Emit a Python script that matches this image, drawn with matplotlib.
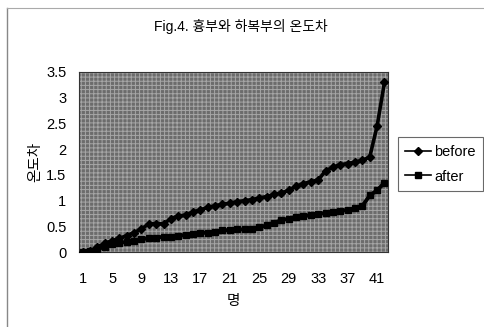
import matplotlib

matplotlib.use("Agg")
import matplotlib.pyplot as plt
from matplotlib.lines import Line2D

plt.rcParams["font.family"] = ["Liberation Sans", "Noto Sans CJK KR", "DejaVu Sans"]
plt.rcParams["hatch.linewidth"] = 0.7

# 42 subjects, temperature difference before / after
subjects = list(range(1, 43))
before = [0.0, 0.02, 0.1, 0.17, 0.22, 0.27, 0.32, 0.38, 0.45, 0.55,
          0.55, 0.55, 0.65, 0.70, 0.72, 0.78, 0.82, 0.87, 0.90, 0.93,
          0.95, 0.98, 1.00, 1.02, 1.05, 1.08, 1.12, 1.15, 1.20, 1.28,
          1.33, 1.37, 1.40, 1.58, 1.65, 1.70, 1.72, 1.75, 1.78, 1.85,
          2.45, 3.30]
after = [0.0, 0.02, 0.06, 0.10, 0.15, 0.18, 0.20, 0.22, 0.25, 0.27,
         0.28, 0.30, 0.30, 0.32, 0.33, 0.35, 0.37, 0.38, 0.40, 0.42,
         0.43, 0.44, 0.44, 0.45, 0.48, 0.52, 0.57, 0.62, 0.65, 0.68,
         0.70, 0.72, 0.74, 0.76, 0.78, 0.80, 0.82, 0.85, 0.90, 1.10,
         1.20, 1.35]
xticks = list(range(1, 43, 4))
yticks = [0, 0.5, 1, 1.5, 2, 2.5, 3, 3.5]
ytick_labels = ["0", "0.5", "1", "1.5", "2", "2.5", "3", "3.5"]

fig = plt.figure(figsize=(4.84, 3.27), dpi=100)
ax = fig.add_axes([0.163, 0.229, 0.639, 0.551])

# dithered gray plot area
ax.set_facecolor("#6c6c6c")
ax.add_patch(plt.Rectangle((0, 0), 1, 1, transform=ax.transAxes, fill=False,
                           hatch="++++", edgecolor="#a6a6a6", linewidth=0, zorder=0))

ax.plot(subjects, before, color="black", lw=2.6, marker="D", ms=4.5, label="before", zorder=3)
ax.plot(subjects, after, color="black", lw=2.8, marker="s", ms=5, label="after", zorder=3)

ax.set_xlim(0.5, 42.5)
ax.set_ylim(0, 3.5)
ax.set_xticks(xticks)
ax.set_yticks(yticks)
ax.set_yticklabels(ytick_labels)
ax.tick_params(length=0, labelsize=10.5)
ax.tick_params(axis="x", pad=14)
ax.tick_params(axis="y", pad=9)
for s in ax.spines.values():
    s.set_color("#333333")
    s.set_linewidth(0.8)

ax.set_xlabel("명", fontsize=10.5, labelpad=6)
ax.set_ylabel("온도차", fontsize=10.5, labelpad=3)

fig.text(0.497, 0.918, "Fig.4. 흉부와 하복부의 온도차", ha="center", va="center", fontsize=10)

handles = [
    Line2D([], [], color="black", lw=1.2, marker="D", ms=4),
    Line2D([], [], color="black", lw=1.2, marker="s", ms=4.5),
]
leg = fig.legend(handles, ["before", "after"], loc="upper left",
                 bbox_to_anchor=(0.822, 0.58), fontsize=10.5, frameon=True,
                 fancybox=False, handlelength=1.8, handletextpad=0.2,
                 borderpad=0.5, labelspacing=0.75, borderaxespad=0)
leg.get_frame().set_edgecolor("#444444")
leg.get_frame().set_linewidth(0.8)

# outer chart frame (left and top edges)
fig.add_artist(Line2D([0.015, 0.015], [0.0, 0.975], color="#888888", lw=1.0))
fig.add_artist(Line2D([0.015, 1.0], [0.975, 0.975], color="#aaaaaa", lw=0.8))

fig.savefig("out.png", dpi=100, facecolor="white")
